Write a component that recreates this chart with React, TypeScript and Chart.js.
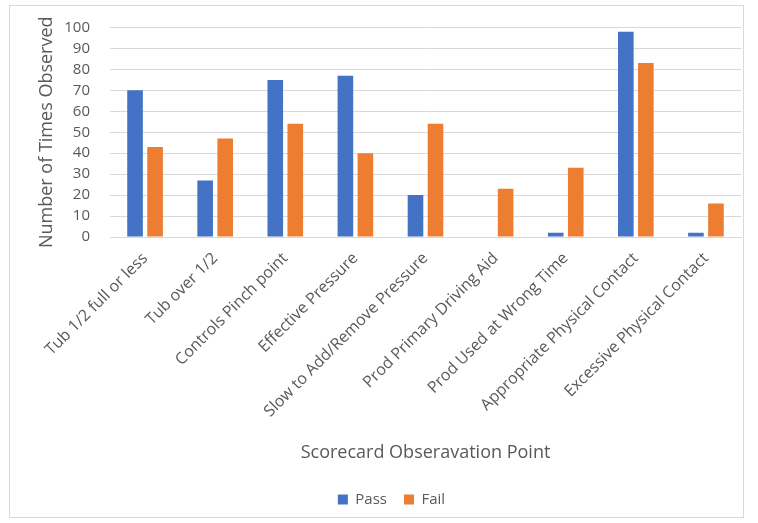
import React, { useEffect, useRef } from "react";
import { Chart, registerables } from "chart.js";

Chart.register(...registerables);

const categories = [
  "Tub 1/2 full or less",
  "Tub over 1/2",
  "Controls Pinch point",
  "Effective Pressure",
  "Slow to Add/Remove Pressure",
  "Prod Primary Driving Aid",
  "Prod Used at Wrong Time",
  "Appropriate Physical Contact",
  "Excessive Physical Contact",
];
const passValues = [70, 27, 75, 77, 20, 0, 2, 98, 2];
const failValues = [43, 47, 54, 40, 54, 23, 33, 83, 16];
const yTitle = "Number of Times Observed";
const xTitle = "Scorecard Obseravation Point";

const FONT = "'Open Sans', sans-serif";
const TEXT = "#595959";

const shiftLegend = {
  id: "shiftLegend",
  afterLayout(chart: any) {
    if (chart.legend) {
      chart.legend.left += 10;
      chart.legend.right += 10;
    }
  },
};

export default function App() {
  const ref = useRef<HTMLCanvasElement | null>(null);
  useEffect(() => {
    if (!ref.current) return;
    const chart = new Chart(ref.current, {
      type: "bar",
      data: {
        labels: categories,
        datasets: [
          { label: "Pass", data: passValues, backgroundColor: "#4472C4", categoryPercentage: 0.571, barPercentage: 0.78 },
          { label: "Fail", data: failValues, backgroundColor: "#ED7D31", categoryPercentage: 0.571, barPercentage: 0.78 },
        ],
      },
      options: {
        animation: false,
        responsive: false,
        maintainAspectRatio: false,
        layout: { padding: { left: 22, right: 17, top: 21, bottom: 6 } },
        plugins: {
          tooltip: { enabled: false },
          legend: {
            position: "bottom",
            labels: {
              boxWidth: 10,
              boxHeight: 10,
              padding: 17,
              color: TEXT,
              font: { family: FONT, size: 15 },
            },
          },
        },
        scales: {
          x: {
            grid: { display: false },
            border: { color: "#d9d9d9" },
            ticks: {
              minRotation: 45,
              maxRotation: 45,
              autoSkip: false,
              color: TEXT,
              font: { family: FONT, size: 16 },
              padding: 4,
            },
            title: {
              display: true,
              text: xTitle,
              color: TEXT,
              font: { family: FONT, size: 18 },
              padding: { top: 10, bottom: 11 },
            },
            afterFit: (scale: any) => {
              scale.height = 238;
            },
          },
          y: {
            min: 0,
            max: 100,
            ticks: {
              stepSize: 10,
              color: TEXT,
              font: { family: FONT, size: 15, lineHeight: 1 },
              padding: 20,
            },
            grid: { color: "#d9d9d9", drawTicks: false },
            border: { display: false },
            title: {
              display: true,
              text: yTitle,
              color: TEXT,
              font: { family: FONT, size: 18 },
              padding: { top: 14, bottom: 4 },
            },
            afterFit: (scale: any) => {
              scale.width = 110 - 22;
            },
          },
        },
      },
      plugins: [shiftLegend],
    });
    return () => chart.destroy();
  }, []);

  return (
    <div style={{ position: "fixed", left: 0, top: 0, width: 758, height: 523, background: "#fff" }}>
      <div
        style={{
          position: "absolute",
          left: 9,
          top: 5,
          width: 735,
          height: 513,
          border: "1px solid #d9d9d9",
          boxSizing: "border-box",
        }}
      />
      <canvas ref={ref} width={758} height={523} style={{ position: "absolute", left: 0, top: 0 }} />
    </div>
  );
}
